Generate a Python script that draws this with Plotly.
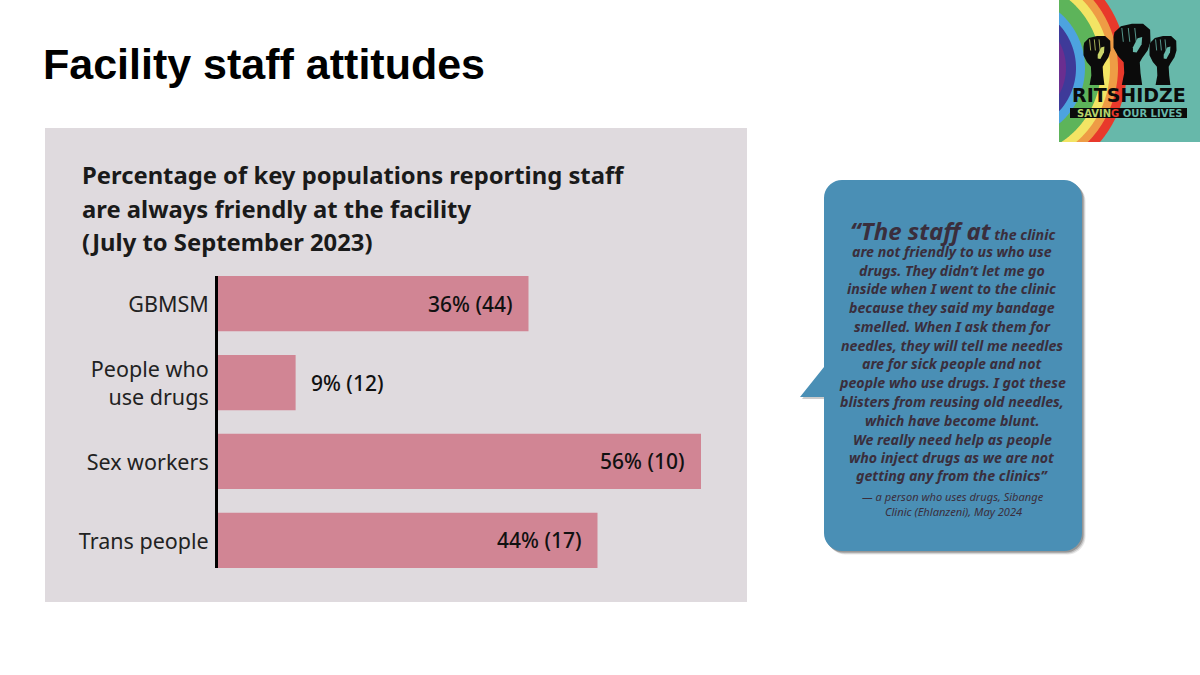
import numpy as np
import plotly.graph_objects as go

# ---- data ----
categories = ["GBMSM", "People who<br>use drugs", "Sex workers", "Trans people"]
percent = [36, 9, 56, 44]
counts = [44, 12, 10, 17]
labels = [f"{p}% ({n})" for p, n in zip(percent, counts)]

W, H = 1200, 675
PANEL = "#DFDADE"
BAR = "#D18594"
BLUE = "#4A8FB5"
INK = "#3A2E3C"
TEAL = "#67B8AA"
CHART_FONT = "Noto Sans"


def fx(px):
    return px / W


def fy(py):
    return 1 - py / H


def P(x0, y0, x1, y1, color, **kw):
    return dict(type="rect", xref="paper", yref="paper", x0=fx(x0), x1=fx(x1), y0=fy(y0), y1=fy(y1),
                fillcolor=color, line=dict(width=0), layer="below", **kw)


def path_shape(points, color, opacity=1.0):
    d = "M " + " L ".join(f"{fx(x):.5f},{fy(y):.5f}" for x, y in points) + " Z"
    return dict(type="path", xref="paper", yref="paper", path=d, fillcolor=color, opacity=opacity,
                line=dict(width=0), layer="below")


def rounded(x0, y0, x1, y1, r):
    pts = []
    for cx, cy, a0 in [(x1 - r, y0 + r, -90), (x1 - r, y1 - r, 0), (x0 + r, y1 - r, 90), (x0 + r, y0 + r, 180)]:
        for a in np.linspace(a0, a0 + 90, 10):
            pts.append((cx + r * np.cos(np.radians(a)), cy + r * np.sin(np.radians(a))))
    return pts


def ring(r, color):
    """Disc of the rainbow clipped to the logo square."""
    cx, cy, lx, ty, by = 1012.0, 68.0, 1059.0, 0.0, 142.0
    ys = np.linspace(ty, by, 160)
    pts = []
    for y in ys:
        q = r * r - (y - cy) ** 2
        if q > 0 and cx + np.sqrt(q) > lx:
            pts.append((cx + np.sqrt(q), y))
    pts = [(lx, pts[0][1])] + pts + [(lx, pts[-1][1])]
    return path_shape(pts, color)


def fist(cx, top, bottom, width, gap_colour):
    """Raised fist and forearm, with knuckle lines and the gap by the thumb."""
    o = [(-.95, .12), (-.6, .02), (0, -.02), (.6, -.02), (.98, .08), (1, .28), (.85, .42), (.55, .55), (.42, .62),
         (.46, .8), (.55, 1), (-.55, 1), (-.42, .8), (-.45, .62), (-.75, .52), (-1, .38), (-1, .2)]
    sx, sy = width / 2, bottom - top
    out = [path_shape([(cx + x * sx, top + y * sy) for x, y in o], "#0B0B0B")]
    for dx in (-.55, -.2, .15):
        out.append(dict(type="line", xref="paper", yref="paper", x0=fx(cx + dx * sx), x1=fx(cx + (dx + .08) * sx),
                        y0=fy(top + .05 * sy), y1=fy(top + .28 * sy), line=dict(color=gap_colour, width=0.8),
                        layer="below"))
    gap = [(.05, .37), (.3, .22), (.55, .2), (.52, .32), (.25, .46), (.05, .45)]
    out.append(path_shape([(cx + x * sx, top + y * sy) for x, y in gap], gap_colour))
    return out


shapes = [
    P(45, 128, 747, 602, PANEL),
    P(1059, 0, 1200, 142, TEAL),
]
for radius, colour in [(115, "#E8392B"), (106, "#EE9C45"), (98, "#F3E464"), (89, "#5DB45A"),
                       (73, "#4DA3DF"), (64, "#3E3A99"), (54, "#6A2E90")]:
    shapes.append(ring(radius, colour))
shapes += fist(1097, 37, 85, 27, "#C9D56A")
shapes += fist(1132, 25, 85, 37, TEAL)
shapes += fist(1163, 37, 85, 27, TEAL)
shapes.append(P(1070, 108, 1187, 118, "#0B0B0B"))

# speech bubble: soft shadow then body
for off, op in [(3.5, 0.12), (2.5, 0.2), (1.5, 0.3)]:
    shapes.append(path_shape(rounded(824 + off, 180 + off, 1082 + off, 551 + off, 18), "#333333", op))
shapes.append(path_shape([(802, 399), (826, 399), (826, 369)], "#333333", 0.25))
body = rounded(824, 180, 1082, 551, 18)
body = body[:30] + [(824, 397), (800, 397), (824, 367)] + body[30:]
shapes.append(path_shape(body, BLUE))

fig = go.Figure(
    go.Bar(y=categories, x=percent, orientation="h", width=0.7, marker=dict(color=BAR, line=dict(width=0)),
           hoverinfo="skip")
)


def note(text, px, py, size, family=CHART_FONT, color=INK, anchor="center", **font):
    return dict(text=text, x=fx(px), y=fy(py), xref="paper", yref="paper", showarrow=False, xanchor=anchor,
                yanchor="middle", font=dict(family=family, size=size, color=color, **font))


anns = [note("<b>Facility staff attitudes</b>", 41, 64, 43, "Liberation Sans", "black", "left")]
for i, line in enumerate(["Percentage of key populations reporting staff", "are always friendly at the facility",
                          "(July to September 2023)"]):
    anns.append(note(f"<b>{line}</b>", 80, 175 + 33.5 * i, 23.8, color="#1A1A1A", anchor="left"))
for cat, p, lab in zip(categories, percent, labels):
    outside = p < 15
    anns.append(dict(text=lab, x=p, y=cat, xref="x", yref="y", showarrow=False,
                     xanchor="left" if outside else "right", xshift=13 if outside else -14,
                     font=dict(family=CHART_FONT, size=21, color="#111111", weight=500)))

quote = [
    ("are not friendly to us who use", 251), ("drugs. They didn’t let me go", 270),
    ("inside when I went to the clinic", 288.5), ("because they said my bandage", 307),
    ("smelled. When I ask them for", 326), ("needles, they will tell me needles", 345),
    ("are for sick people and not", 363.5), ("people who use drugs. I got these", 382.5),
    ("blisters from reusing old needles,", 401), ("which have become blunt.", 420),
    ("We really need help as people", 439), ("who inject drugs as we are not", 457.5),
    ("getting any from the clinics”", 476),
]
anns.append(note("<b><i><span style='font-size:24px'>“The staff at</span> the clinic</i></b>", 953, 230, 14.2))
for line, y in quote:
    anns.append(note(f"<b><i>{line}</i></b>", 952, y, 14.2))
for line, y in [("— a person who uses drugs, Sibange", 496), ("Clinic (Ehlanzeni), May 2024", 511)]:
    anns.append(note(f"<i>{line}</i>", 953, y, 11.1))
anns.append(note("<b>RITSHIDZE</b>", 1129, 95, 19, "DejaVu Sans", "#0B0B0B"))
anns.append(note("<b><span style='color:#B5D36A'>SAVIN</span><span style='color:#E8392B'>G</span> OUR LIVES</b>",
                 1129, 113, 10, "DejaVu Sans", TEAL))

fig.update_layout(
    width=W, height=H, margin=dict(l=0, r=0, t=0, b=0), paper_bgcolor="white", plot_bgcolor="rgba(0,0,0,0)",
    showlegend=False, shapes=shapes, annotations=anns,
    xaxis=dict(domain=[fx(218), fx(701)], range=[0, 56], visible=False, fixedrange=True),
    yaxis=dict(domain=[fy(568), fy(276)], range=[3.35, -0.35], type="category", categoryorder="array",
               categoryarray=categories, showline=True, linecolor="black", linewidth=3, ticks="", showgrid=False,
               ticklabelstandoff=2, ticklabelshift=-1, tickfont=dict(family=CHART_FONT, size=21.5, color="#222222"),
               fixedrange=True),
)
fig.write_html("out.html", config=dict(displayModeBar=False), post_script="document.body.style.margin='0';")
